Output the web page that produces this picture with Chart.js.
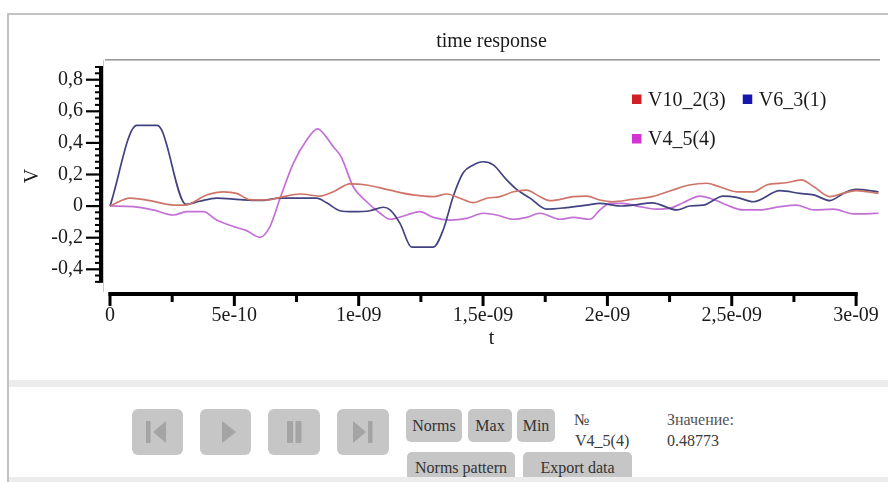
<!DOCTYPE html>
<html>
<head>
<meta charset="utf-8">
<script src="https://cdn.jsdelivr.net/npm/chart.js@4.4.1/dist/chart.umd.min.js"></script>
<style>
  html, body { margin: 0; padding: 0; background: #fff; }
  body { width: 888px; height: 482px; position: relative; overflow: hidden; }
  #frame { position: absolute; left: 7px; top: 13px; right: 0; bottom: 0; border-left: 2px solid #c2c2c2; border-top: 2px solid #c2c2c2; }
  #c { position: absolute; left: 0; top: 0; }
  .band { position: absolute; left: 9px; right: 0; background: #ececec; }
  .btn { position: absolute; background: #c6c6c6; border-radius: 6px; }
  .btn svg { display: block; }
  .tbtn { position: absolute; background: #c6c6c6; border-radius: 5px; font-size: 16px; color: #333; text-align: center; }
  .lbl { position: absolute; font-size: 16px; line-height: 18px; color: #3a3a3a; white-space: nowrap; }
</style>
</head>
<body>
<div id="frame"></div>
<canvas id="c" width="888" height="376"></canvas>

<!-- player controls -->
<div class="btn" style="left:132px;top:409px;width:51px;height:46px">
  <svg width="51" height="46"><rect x="14" y="12" width="4.5" height="22" fill="#a4a4a4"/><polygon points="21,23 34,12 34,34" fill="#a4a4a4"/></svg>
</div>
<div class="btn" style="left:200px;top:409px;width:51px;height:46px">
  <svg width="51" height="46"><polygon points="22,12 22,34 36,23" fill="#a4a4a4"/></svg>
</div>
<div class="btn" style="left:268px;top:409px;width:52px;height:46px">
  <svg width="52" height="46"><rect x="19" y="12" width="6" height="22" fill="#a4a4a4"/><rect x="27.5" y="12" width="6" height="22" fill="#a4a4a4"/></svg>
</div>
<div class="btn" style="left:337px;top:409px;width:52px;height:46px">
  <svg width="52" height="46"><polygon points="16,12 16,34 29,23" fill="#a4a4a4"/><rect x="31" y="12" width="4.5" height="22" fill="#a4a4a4"/></svg>
</div>

<div class="tbtn" style="left:406px;top:409px;width:56px;height:33px;line-height:33px">Norms</div>
<div class="tbtn" style="left:468px;top:409px;width:44px;height:33px;line-height:33px">Max</div>
<div class="tbtn" style="left:517px;top:409px;width:38px;height:33px;line-height:33px">Min</div>
<div class="tbtn" style="left:407px;top:452px;width:108px;height:32px;line-height:32px">Norms pattern</div>
<div class="tbtn" style="left:523px;top:452px;width:109px;height:32px;line-height:32px">Export data</div>

<div class="lbl" style="left:574px;top:411px">№</div>
<div class="lbl" id="selName" style="left:575px;top:432px"></div>
<div class="lbl" style="left:667px;top:411px;color:#555">Значение:</div>
<div class="lbl" id="selValue" style="left:667px;top:432px"></div>

<div class="band" style="top:380px;height:7px"></div>
<div class="band" style="top:477px;height:5px"></div>

<script>
// ---- time response samples (time in nanoseconds, voltage in V) ----
const tV10 = [0, 0.08, 0.161, 0.255, 0.30, 0.389, 0.456, 0.509, 0.563, 0.63, 0.684, 0.764, 0.844, 0.898, 0.965,
  1.032, 1.126, 1.22, 1.30, 1.354, 1.407, 1.461, 1.515, 1.568, 1.622, 1.675, 1.729, 1.769, 1.863, 1.917, 1.97,
  2.02, 2.10, 2.18, 2.26, 2.33, 2.40, 2.45, 2.52, 2.587, 2.64, 2.72, 2.78, 2.83, 2.895, 2.947, 3.0, 3.09];
const vV10 = [0, 0.05, 0.034, 0.006, 0.006, 0.07, 0.09, 0.08, 0.04, 0.038, 0.055, 0.076, 0.063, 0.09, 0.14,
  0.133, 0.10, 0.07, 0.059, 0.076, 0.049, 0.021, 0.049, 0.059, 0.09, 0.10, 0.059, 0.034, 0.059, 0.063, 0.038,
  0.027, 0.042, 0.059, 0.10, 0.133, 0.144, 0.122, 0.09, 0.09, 0.133, 0.147, 0.165, 0.122, 0.059, 0.08, 0.097, 0.08];

const tV6 = [0, 0.107, 0.188, 0.208, 0.306, 0.36, 0.429, 0.523, 0.603, 0.684, 0.76, 0.831, 0.871, 0.925, 0.978,
  1.045, 1.099, 1.126, 1.166, 1.213, 1.30, 1.34, 1.38, 1.42, 1.461, 1.501, 1.541, 1.595, 1.635, 1.689, 1.756,
  1.836, 1.917, 1.97, 2.05, 2.10, 2.18, 2.279, 2.332, 2.385, 2.466, 2.52, 2.587, 2.694, 2.774, 2.83, 2.895,
  2.949, 3.0, 3.09];
const vV6 = [0, 0.51, 0.51, 0.48, 0.01, 0.03, 0.05, 0.04, 0.035, 0.05, 0.05, 0.05, 0.02, -0.03, -0.036,
  -0.03, -0.008, -0.025, -0.11, -0.26, -0.26, -0.15, 0.06, 0.21, 0.26, 0.28, 0.26, 0.165, 0.105, 0.05, -0.02,
  -0.01, 0.006, 0.017, 0.0, 0.005, 0.02, -0.025, 0.0, 0.005, 0.063, 0.055, 0.027, 0.097, 0.08, 0.07, 0.034,
  0.08, 0.105, 0.09];

const tV4 = [0, 0.094, 0.174, 0.255, 0.308, 0.375, 0.429, 0.496, 0.549, 0.603, 0.643, 0.684, 0.737, 0.791, 0.835,
  0.858, 0.898, 0.93, 0.978, 1.032, 1.086, 1.126, 1.193, 1.246, 1.30, 1.367, 1.434, 1.501, 1.555, 1.622, 1.675,
  1.729, 1.809, 1.863, 1.93, 1.97, 2.01, 2.06, 2.13, 2.198, 2.25, 2.305, 2.372, 2.426, 2.48, 2.546, 2.614,
  2.694, 2.76, 2.83, 2.908, 2.99, 3.09];
const vV4 = [0, -0.004, -0.025, -0.057, -0.036, -0.036, -0.089, -0.13, -0.156, -0.198, -0.13, 0.049, 0.27, 0.418, 0.48773,
  0.46, 0.375, 0.31, 0.122, 0.027, -0.046, -0.084, -0.057, -0.036, -0.072, -0.089, -0.078, -0.046, -0.057, -0.084, -0.072,
  -0.046, -0.084, -0.072, -0.084, -0.025, 0.017, 0.017, -0.004, -0.02, -0.015, 0.021, 0.063, 0.042, 0.006, -0.025, -0.025,
  -0.004, 0.006, -0.025, -0.02, -0.05, -0.046];

const seriesNames = ['V10_2(3)', 'V6_3(1)', 'V4_5(4)'];
const selectedSeries = 'V4_5(4)';

// ---- axes ----
const xLabelTicksNs = [0, 0.5, 1, 1.5, 2, 2.5, 3];     // labelled time ticks
const xMinorStepNs = 0.25;
const yLabelTicks = [-0.4, -0.2, 0, 0.2, 0.4, 0.6, 0.8];
const yMinorStep = 0.04;
const yAxisExtent = [-0.48, 0.88];
const xViewNs = [-0.02815, 3.0961];
const yView = [-0.5443, 0.9241];

// first installed serif face, checked by text measurement
function pickSerif(cands) {
  const ctx = document.createElement('canvas').getContext('2d');
  const sample = 'time response V10_2(3) 0,8 Значение';
  const widthWith = f => { ctx.font = '40px ' + f; return ctx.measureText(sample).width; };
  for (const c of cands) {
    const q = '"' + c + '"';
    if (widthWith(q + ', monospace') !== widthWith('monospace') ||
        widthWith(q + ', sans-serif') !== widthWith('sans-serif')) return q + ', serif';
  }
  return 'serif';
}
const SERIF = pickSerif(['Liberation Serif', 'Times New Roman', 'Tinos', 'DejaVu Serif', 'Noto Serif', 'FreeSerif']);
document.body.style.fontFamily = SERIF;
const INK = '#1a1a1a';

function pts(ts, vs) { return ts.map((t, i) => ({ x: t, y: vs[i] })); }

function fmtSeconds(ns) {
  if (Math.abs(ns) < 1e-9) return '0';
  const s = ns * 1e-9;
  const e = Math.floor(Math.log10(s) + 1e-9);
  const m = Math.round(s / Math.pow(10, e) * 10) / 10;
  return String(m).replace('.', ',') + 'e-' + String(-e).padStart(2, '0');
}
function isLabelled(list, v) { return list.some(l => Math.abs(l - v) < 1e-6); }

function stepList(a, b, step) {
  const out = [];
  const n = Math.round((b - a) / step);
  for (let i = 0; i <= n; i++) out.push(Math.round((a + i * step) * 1e6) / 1e6);
  return out;
}

// black axis bars with tick combs, drawn from the scales
const axisPlugin = {
  id: 'axisBars',
  beforeDatasetsDraw(chart) {
    const { ctx, chartArea } = chart;
    ctx.save();
    ctx.fillStyle = '#9a9a9a';
    ctx.fillRect(chartArea.left + 2, chartArea.top - 1, chartArea.right - chartArea.left - 2, 1.6);
    ctx.fillStyle = '#c8c8c8';
    ctx.fillRect(chartArea.left, chartArea.top, 1, chartArea.bottom - chartArea.top);
    ctx.restore();
  },
  afterDraw(chart) {
    const { ctx, chartArea } = chart;
    const xs = chart.scales.x, ys = chart.scales.y;
    ctx.save();
    ctx.fillStyle = '#000';
    // y axis
    const yTop = ys.getPixelForValue(yAxisExtent[1]);
    const yBot = ys.getPixelForValue(yAxisExtent[0]);
    const ax = chartArea.left - 4;
    ctx.fillRect(ax, yTop - 1, 4, yBot - yTop + 2);
    ys.ticks.forEach(t => {
      const p = ys.getPixelForValue(t.value);
      if (isLabelled(yLabelTicks, t.value)) ctx.fillRect(ax - 13, p - 1, 15, 2.2);
      else ctx.fillRect(ax - 4, p - 1, 5, 2);
    });
    // x axis
    const x0 = xs.getPixelForValue(xLabelTicksNs[0]);
    const x1 = xs.getPixelForValue(xLabelTicksNs[xLabelTicksNs.length - 1]);
    const by = chartArea.bottom;
    ctx.fillRect(x0 - 1.5, by, x1 - x0 + 3, 4);
    xs.ticks.forEach(t => {
      const p = xs.getPixelForValue(t.value);
      if (isLabelled(xLabelTicksNs, t.value)) ctx.fillRect(p - 1.5, by, 3, 14);
      else ctx.fillRect(p - 1.5, by, 3, 10);
    });
    ctx.restore();
  }
};

// square key legend in the upper right of the plot
const keyPlugin = {
  id: 'squareKeys',
  afterDraw(chart) {
    const { ctx, chartArea } = chart;
    const startX = chartArea.right - 248;
    let x = startX, y = chartArea.top + 39.5;
    ctx.save();
    ctx.font = '20px ' + SERIF;
    ctx.textBaseline = 'middle';
    chart.data.datasets.forEach(ds => {
      const w = 16 + ctx.measureText(ds.label).width;
      if (x !== startX && x + w > chartArea.right - 15) { x = startX; y += 39.5; }
      ctx.fillStyle = ds.keyColor;
      ctx.fillRect(x, y - 5, 9.5, 9.5);
      ctx.fillStyle = INK;
      ctx.fillText(ds.label, x + 16, y + 1);
      x += w + 17;
    });
    ctx.restore();
  }
};

const chart = new Chart(document.getElementById('c'), {
  type: 'line',
  data: {
    datasets: [
      { label: seriesNames[0], data: pts(tV10, vV10), borderColor: '#cf7468', keyColor: '#d11f26' },
      { label: seriesNames[1], data: pts(tV6, vV6), borderColor: '#41427f', keyColor: '#1717b0' },
      { label: seriesNames[2], data: pts(tV4, vV4), borderColor: '#c46fd6', keyColor: '#d434d4' }
    ]
  },
  options: {
    responsive: false,
    animation: false,
    devicePixelRatio: 1,
    layout: { padding: { top: 14, right: 8, bottom: 22, left: 0 } },
    elements: {
      point: { radius: 0, hoverRadius: 0 },
      line: { borderWidth: 1.7, cubicInterpolationMode: 'monotone' }
    },
    plugins: {
      legend: { display: false },
      tooltip: { enabled: false },
      title: {
        display: true, text: 'time response', fullSize: false, color: INK,
        font: { family: SERIF, size: 20, weight: 'normal' },
        padding: { top: 16, bottom: 6 }
      }
    },
    scales: {
      x: {
        type: 'linear', bounds: 'data', min: xViewNs[0], max: xViewNs[1],
        afterBuildTicks: s => { s.ticks = stepList(0, 3, xMinorStepNs).map(v => ({ value: v })); },
        afterFit: s => { s.height = 62; s.paddingLeft = 0; s.paddingRight = 0; },
        grid: { display: false, drawTicks: false },
        border: { display: false },
        ticks: {
          autoSkip: false, maxRotation: 0, minRotation: 0, padding: 12, color: INK,
          font: { family: SERIF, size: 20 },
          callback: v => isLabelled(xLabelTicksNs, v) ? fmtSeconds(v) : ''
        },
        title: { display: true, text: 't', color: INK, font: { family: SERIF, size: 20 }, padding: { top: 0, bottom: 3 } }
      },
      y: {
        type: 'linear', bounds: 'data', min: yView[0], max: yView[1],
        afterBuildTicks: s => { s.ticks = stepList(yAxisExtent[0], yAxisExtent[1], yMinorStep).map(v => ({ value: v })); },
        afterFit: s => { s.width = 103; s.paddingTop = 0; s.paddingBottom = 0; },
        grid: { display: false, drawTicks: false },
        border: { display: false },
        ticks: {
          autoSkip: false, padding: 20, color: INK,
          font: { family: SERIF, size: 20 },
          callback: v => isLabelled(yLabelTicks, v) ? String(Math.round(v * 10) / 10).replace('.', ',') : ''
        },
        title: { display: true, text: 'V', color: INK, font: { family: SERIF, size: 20 }, padding: { top: 21, bottom: 0 } }
      }
    }
  },
  plugins: [axisPlugin, keyPlugin]
});

// readout of the selected series' peak value
const selIdx = seriesNames.indexOf(selectedSeries);
const selValues = [vV10, vV6, vV4][selIdx];
document.getElementById('selName').textContent = selectedSeries;
document.getElementById('selValue').textContent = Math.max(...selValues).toFixed(5);
</script>
</body>
</html>
